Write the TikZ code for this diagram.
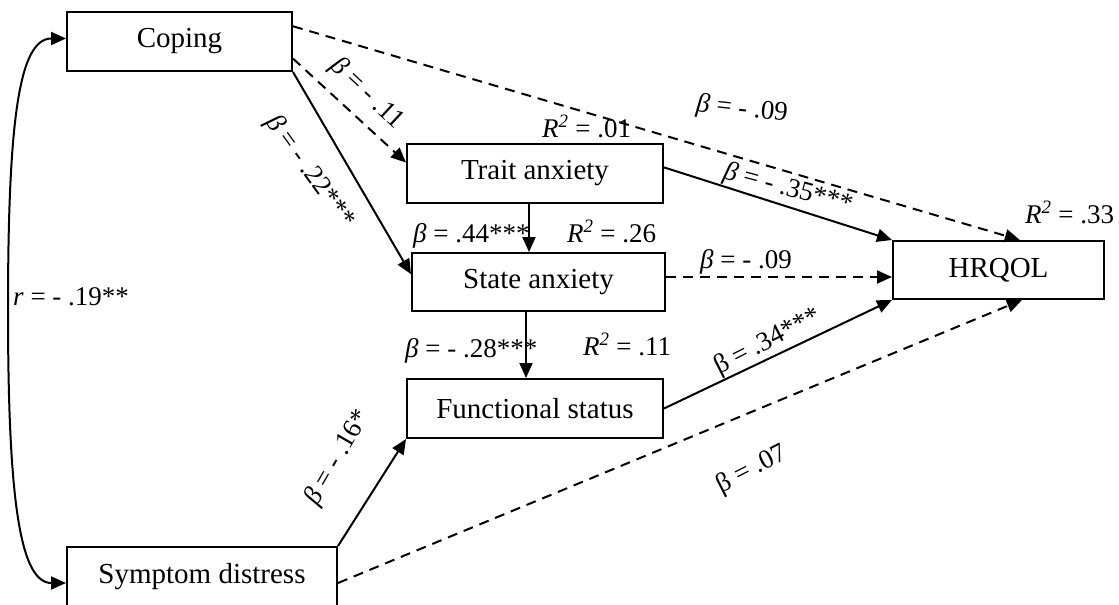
\documentclass[tikz,border=0pt]{standalone}
\usepackage{fontspec}
\setmainfont{Liberation Serif}
\usetikzlibrary{arrows.meta,calc}
\newcommand{\Bit}{\textit{β}}
\newcommand{\Rsq}{\textit{R}\textsuperscript{\textit{2}}}
\begin{document}
\begin{tikzpicture}[x=1pt,y=-1pt,
  box/.style={draw,line width=2pt,inner sep=0pt,font=\fontsize{29}{34}\selectfont},
  lab/.style={inner sep=0pt,font=\fontsize{27}{32}\selectfont},
  conn/.style={line width=2pt,-{Triangle[length=15pt,width=13pt]}},
  dconn/.style={conn,dash pattern=on 10pt off 7pt},
]
\useasboundingbox (0,0) rectangle (1119,605);
\clip (0,0) rectangle (1119,605);

% boxes
\node[box,minimum width=225pt,minimum height=59pt] (cop) at (179.5,41.5) {Coping};
\node[box,minimum width=256pt,minimum height=59pt] (tra) at (535,173.5) {Trait anxiety};
\node[box,minimum width=253pt,minimum height=58pt] (sta) at (538.5,282) {State anxiety};
\node[box,minimum width=256pt,minimum height=59pt] (fun) at (535,408.5) {Functional status};
\node[box,minimum width=211pt,minimum height=58pt] (hrq) at (998.5,270) {HRQOL};
\node[box,minimum width=270pt,minimum height=60pt] (sym) at (202,577) {Symptom distress};

% connectors
\draw[dconn] ($(cop.north east)!0.25!(cop.south east)$) -- ($(hrq.north west)!0.6!(hrq.north east)$);
\draw[dconn] ($(cop.north east)!0.78!(cop.south east)$) -- ($(tra.north west)!0.32!(tra.south west)$);
\draw[conn] (cop.south east) -- ($(sta.north west)!0.37!(sta.south west)$);
\draw[conn] ([xshift=-6pt]tra.south) -- ([xshift=-6pt]tra.south |- sta.north);
\draw[conn] ([xshift=-12.5pt]sta.south) -- ([xshift=-12.5pt]sta.south |- fun.north);
\draw[conn] ($(tra.north east)!0.4!(tra.south east)$) -- (hrq.north west);
\draw[dconn] ([yshift=5pt]sta.east) coordinate (s1) -- (s1 -| hrq.west);
\draw[conn] (fun.east) -- (hrq.south west);
\draw[dconn] ([yshift=-6pt]sym.east) -- ($(hrq.south west)!0.61!(hrq.south east)$);
\draw[conn] (sym.north east) -- (fun.south west);
\draw[line width=2pt,{Triangle[length=15pt,width=13pt]}-{Triangle[length=15pt,width=13pt]}]
  ([yshift=3pt]cop.west) .. controls +(-47,0) and (8,120) .. (8,310)
  .. controls (8,500) and (20,583) .. ([yshift=-6pt]sym.west);

% labels
\node[lab,rotate=-6] (l1) at (742,110) {\Bit{} = - .09};
\node[lab,rotate=-43] (l2) at (367,94) {\Bit{} = - .11};
\node[lab,rotate=-54] (l3) at (310,172) {\Bit{} = - .22***};
\node[lab,anchor=base west] (l4) at (542,137) {\Rsq{} = .01};
\node[lab,anchor=base west] (l5) at (413,242) {\Bit{} = .44***};
\node[lab,anchor=base west] (l6) at (567,242) {\Rsq{} = .26};
\node[lab,anchor=base west] (l7) at (700,268) {\Bit{} = - .09};
\node[lab,rotate=-15] (l8) at (788,189) {\Bit{} = - .35***};
\node[lab,anchor=base west] (l9) at (405,357) {\Bit{} = - .28***};
\node[lab,anchor=base west] (l10) at (583,355) {\Rsq{} = .11};
\node[lab,rotate=27] (l11) at (768,342) {β = .34***};
\node[lab,rotate=27] (l12) at (752,470) {β = .07};
\node[lab,rotate=60] (l13) at (338,458) {\Bit{} = - .16*};
\node[lab,anchor=base west] (l14) at (1025,223) {\Rsq{} = .33};
\node[lab,anchor=base west] (l15) at (13,305) {\textit{r} = - .19**};
\end{tikzpicture}
\end{document}
